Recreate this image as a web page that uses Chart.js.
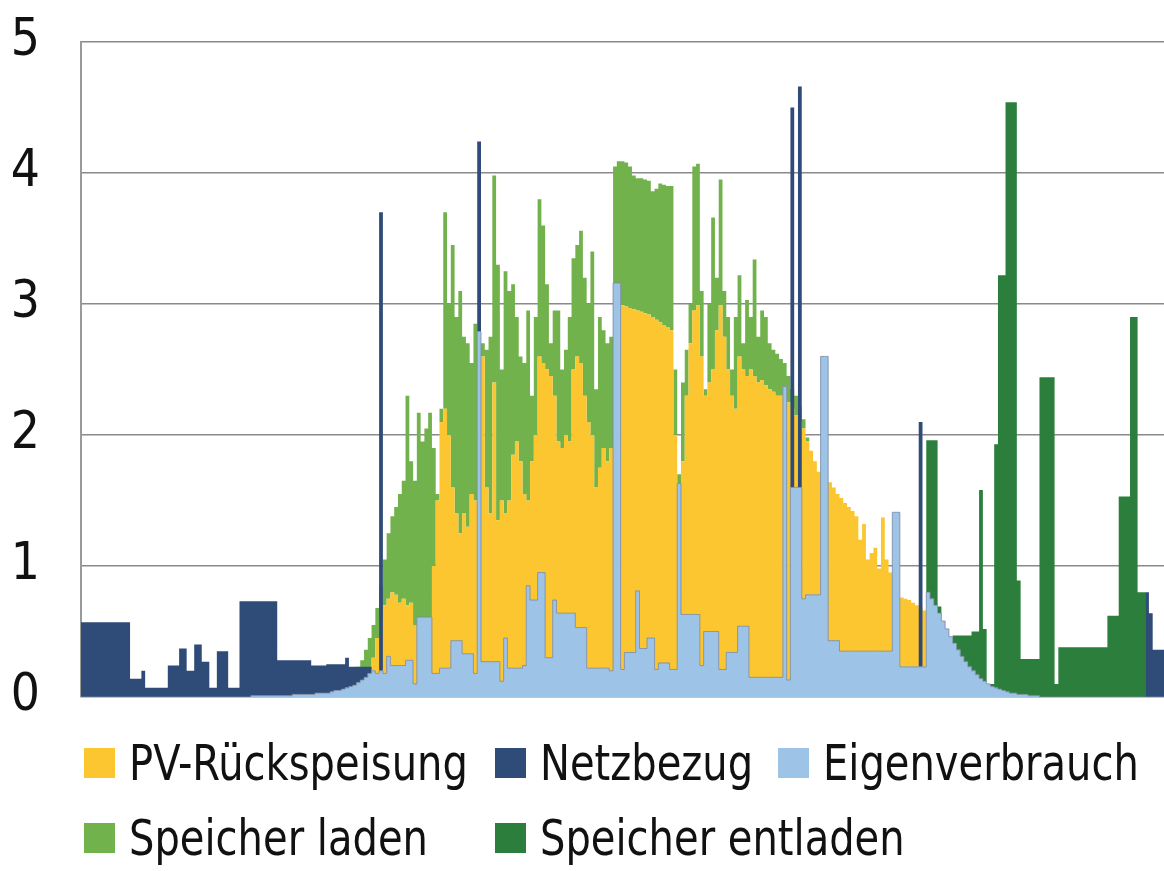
<!DOCTYPE html>
<html lang="de">
<head>
<meta charset="utf-8">
<title>PV-Anlage mit Speicher - Tagesverlauf</title>
<script src="https://cdn.jsdelivr.net/npm/chart.js@4.4.1/dist/chart.umd.min.js"></script>
<style>
    html, body { margin: 0; padding: 0; background: #fff; }
    #wrap { position: relative; width: 1164px; height: 871px; overflow: hidden; }
    #legende {
        position: absolute; left: 84px; top: 725px;
        display: grid; grid-template-columns: 411px 283px auto; grid-auto-rows: 75px;
        font-family: 'Liberation Sans Narrow', 'Arial Narrow', 'DejaVu Sans Condensed', sans-serif;
        font-size: 50px; color: #111;
    }
    .eintrag { display: flex; align-items: center; white-space: nowrap; }
    .kasten { width: 31px; height: 30px; margin-right: 14px; flex: none; }
    .txt { display: inline-block; transform: scaleX(0.89); transform-origin: left center; }
</style>
</head>
<body>
<div id="wrap">
    <canvas id="chart"></canvas>
    <div id="legende"></div>
</div>
<script>
// one value every 5 minutes, kW
const zeit = [];
for (let m = 0; m < 24 * 60; m += 5) {
    zeit.push(String(Math.floor(m / 60)).padStart(2, '0') + ':' + String(m % 60).padStart(2, '0'));
}

const yTicks = [0, 1, 2, 3, 4, 5];

const eigenverbrauch = [
    0,0,0,0,0,0,0,0,0,0,0,0,0,0,0,0,
    0,0,0,0,0,0,0,0,0,0,0,0,0,0,0,0,
    0,0,0,0,0,0,0,0,0,0,0,0,0,0.01,0.01,0.01,
    0.01,0.01,0.01,0.01,0.01,0.01,0.01,0.01,0.02,0.02,0.02,0.02,0.02,0.02,0.03,0.03,
    0.03,0.03,0.04,0.05,0.05,0.06,0.07,0.08,0.09,0.11,0.13,0.15,0.18,0.2,0.18,0.2,
    0.18,0.31,0.24,0.24,0.24,0.24,0.28,0.28,0.1,0.61,0.61,0.61,0.61,0.18,0.18,0.22,
    0.22,0.22,0.43,0.43,0.43,0.33,0.33,0.33,0.18,2.79,0.27,0.27,0.27,0.27,0.27,0.12,
    0.45,0.22,0.22,0.22,0.22,0.24,0.85,0.74,0.74,0.95,0.95,0.3,0.3,0.74,0.64,0.64,
    0.64,0.64,0.64,0.53,0.53,0.53,0.22,0.22,0.22,0.22,0.22,0.22,0.2,3.16,3.16,0.21,
    0.34,0.34,0.34,0.81,0.37,0.37,0.45,0.45,0.21,0.26,0.26,0.26,0.21,0.21,1.63,0.63,
    0.63,0.63,0.63,0.63,0.24,0.5,0.5,0.5,0.5,0.21,0.21,0.34,0.34,0.34,0.54,0.54,
    0.54,0.15,0.15,0.15,0.15,0.15,0.15,0.15,0.15,0.15,2.37,0.13,1.6,1.6,1.6,0.75,
    0.78,0.78,0.78,0.78,2.6,2.6,0.43,0.43,0.43,0.35,0.35,0.35,0.35,0.35,0.35,0.35,
    0.35,0.35,0.35,0.35,0.35,0.35,0.35,1.41,1.41,0.23,0.23,0.23,0.23,0.23,0.23,0.23,
    0.8,0.75,0.7,0.64,0.58,0.52,0.46,0.41,0.36,0.31,0.27,0.23,0.2,0.17,0.14,0.12,
    0.1,0.08,0.07,0.06,0.05,0.04,0.03,0.03,0.02,0.02,0.02,0.01,0.01,0.01,0,0,
    0,0,0,0,0,0,0,0,0,0,0,0,0,0,0,0,
    0,0,0,0,0,0,0,0,0,0,0,0,0,0,0,0
];

const netzbezug = [
    0.57,0.57,0.57,0.57,0.57,0.57,0.57,0.57,0.57,0.57,0.57,0.57,0.57,0.14,0.14,0.14,
    0.2,0.07,0.07,0.07,0.07,0.07,0.07,0.24,0.24,0.24,0.37,0.37,0.2,0.2,0.4,0.4,
    0.27,0.27,0.07,0.07,0.35,0.35,0.35,0.07,0.07,0.07,0.73,0.73,0.73,0.72,0.72,0.72,
    0.72,0.72,0.72,0.72,0.27,0.27,0.27,0.27,0.26,0.26,0.26,0.26,0.26,0.22,0.21,0.21,
    0.21,0.22,0.21,0.2,0.2,0.19,0.23,0.15,0.14,0.12,0.1,0.08,0.05,0,0,3.5,
    0,0,0,0,0,0,0,0,0,0,0,0,0,0,0,0,
    0,0,0,0,0,0,0,0,0,1.45,0,0,0,0,0,0,
    0,0,0,0,0,0,0,0,0,0,0,0,0,0,0,0,
    0,0,0,0,0,0,0,0,0,0,0,0,0,0,0,0,
    0,0,0,0,0,0,0,0,0,0,0,0,0,0,0,0,
    0,0,0,0,0,0,0,0,0,0,0,0,0,0,0,0,
    0,0,0,0,0,0,0,0,0,0,0,0,2.9,0,3.06,0,
    0,0,0,0,0,0,0,0,0,0,0,0,0,0,0,0,
    0,0,0,0,0,0,0,0,0,0,0,0,0,0,1.87,0,
    0,0,0,0,0,0,0,0,0,0,0,0,0,0,0,0,
    0,0,0,0,0,0,0,0,0,0,0,0,0,0,0,0,
    0,0,0,0,0,0,0,0,0,0,0,0,0,0,0,0,
    0,0,0,0,0,0,0,0,0,0,0.8,0.64,0.36,0.36,0.36,0.36
];

const speicherEntladen = [
    0,0,0,0,0,0,0,0,0,0,0,0,0,0,0,0,
    0,0,0,0,0,0,0,0,0,0,0,0,0,0,0,0,
    0,0,0,0,0,0,0,0,0,0,0,0,0,0,0,0,
    0,0,0,0,0,0,0,0,0,0,0,0,0,0,0,0,
    0,0,0,0,0,0,0,0,0,0,0,0,0,0,0,0,
    0,0,0,0,0,0,0,0,0,0,0,0,0,0,0,0,
    0,0,0,0,0,0,0,0,0,0,0,0,0,0,0,0,
    0,0,0,0,0,0,0,0,0,0,0,0,0,0,0,0,
    0,0,0,0,0,0,0,0,0,0,0,0,0,0,0,0,
    0,0,0,0,0,0,0,0,0,0,0,0,0,0,0,0,
    0,0,0,0,0,0,0,0,0,0,0,0,0,0,0,0,
    0,0,0,0,0,0,0,0,0,0,0,0,0,0,0,0,
    0,0,0,0,0,0,0,0,0,0,0,0,0,0,0,0,
    0,0,0,0,0,0,0,0,0,0,0,0,0,0,0,0,
    1.16,1.21,1.26,0.05,0,0,0,0.06,0.11,0.16,0.2,0.24,0.3,0.33,1.44,0.4,
    0,0.02,1.86,3.16,3.17,4.5,4.51,4.51,0.87,0.27,0.27,0.28,0.28,0.28,2.44,2.44,
    2.44,2.44,0.1,0.38,0.38,0.38,0.38,0.38,0.38,0.38,0.38,0.38,0.38,0.38,0.38,0.38,
    0.62,0.62,0.62,1.53,1.53,1.53,2.9,2.9,0.8,0.8,0,0,0,0,0,0
];

const rueckspeisung = [
    0,0,0,0,0,0,0,0,0,0,0,0,0,0,0,0,
    0,0,0,0,0,0,0,0,0,0,0,0,0,0,0,0,
    0,0,0,0,0,0,0,0,0,0,0,0,0,0,0,0,
    0,0,0,0,0,0,0,0,0,0,0,0,0,0,0,0,
    0,0,0,0,0,0,0,0,0,0,0,0.03,0.04,0.1,0.27,0.4,
    0.52,0.44,0.56,0.54,0.48,0.51,0.42,0.44,0.45,0,0,0,0,0.82,1.32,1.88,
    1.98,1.78,1.17,0.97,0.82,1.07,0.97,1.22,1.32,0,2.33,1.33,1.13,2.13,1.08,1.38,
    0.95,1.28,1.63,1.73,1.58,1.31,0.65,1.06,1.26,1.65,1.6,2.2,2.15,1.56,1.31,1.26,
    1.36,1.31,1.86,2.07,2.02,1.77,1.88,1.78,1.38,1.53,1.68,1.58,1.7,0,0,2.78,
    2.64,2.63,2.62,2.14,2.57,2.56,2.47,2.45,2.67,2.6,2.58,2.56,2.59,1.79,0,1.17,
    1.67,2.07,2.32,2.36,2.36,1.8,1.9,2.0,2.3,2.78,2.54,2.16,1.96,1.86,2.06,1.96,
    1.91,2.35,2.3,2.25,2.27,2.23,2.2,2.18,2.15,2.15,0,2.12,0.6,0.55,0.5,1.3,
    1.17,1.1,1.02,0.94,0,0,1.21,1.17,1.12,1.17,1.13,1.1,1.07,1.03,0.85,0.97,
    0.7,0.75,0.79,0.63,1.02,0.7,0.6,0,0,0.53,0.52,0.51,0.49,0.47,0.46,0.43,
    0,0,0,0,0,0,0,0,0,0,0,0,0,0,0,0,
    0,0,0,0,0,0,0,0,0,0,0,0,0,0,0,0,
    0,0,0,0,0,0,0,0,0,0,0,0,0,0,0,0,
    0,0,0,0,0,0,0,0,0,0,0,0,0,0,0,0
];

const speicherLaden = [
    0,0,0,0,0,0,0,0,0,0,0,0,0,0,0,0,
    0,0,0,0,0,0,0,0,0,0,0,0,0,0,0,0,
    0,0,0,0,0,0,0,0,0,0,0,0,0,0,0,0,
    0,0,0,0,0,0,0,0,0,0,0,0,0,0,0,0,
    0,0,0,0,0,0,0,0.02,0.07,0.12,0.15,0.18,0.23,0.25,0.23,0.25,
    0.35,0.5,0.58,0.67,0.83,0.9,1.6,1.08,1.1,1.56,1.34,1.44,1.56,0.9,0.05,0.1,
    1.5,1.0,1.85,1.5,1.85,1.35,1.4,1.0,1.35,0,0.1,1.05,1.35,1.58,1.95,1.0,
    1.85,1.6,1.3,0.95,0.8,1.0,1.45,0.5,0.9,1.2,1.05,0.65,0.25,0.65,1.0,0.6,
    0.65,0.95,0.85,0.85,1.01,0.9,0.9,1.4,0.75,1.15,0.9,0.9,0.85,0.89,0.93,1.1,
    1.1,1.08,1.02,1.01,1.02,1.02,1.02,0.96,1.0,1.06,1.07,1.08,1.1,0.5,0.07,0.6,
    0.35,0.3,1.1,1.08,0.5,0.05,0.6,1.16,0.4,0.96,0.35,0.4,0.2,0.7,0.62,0.2,
    0.58,0.4,0.89,0.35,0.53,0.52,0.35,0.32,0.32,0.28,0.18,0.2,0.15,0.15,0.12,0.07,
    0.03,0,0,0,0,0,0,0,0,0,0,0,0,0,0,0,
    0,0,0,0,0,0,0,0,0,0,0,0,0,0,0,0,
    0,0,0,0,0,0,0,0,0,0,0,0,0,0,0,0,
    0,0,0,0,0,0,0,0,0,0,0,0,0,0,0,0,
    0,0,0,0,0,0,0,0,0,0,0,0,0,0,0,0,
    0,0,0,0,0,0,0,0,0,0,0,0,0,0,0,0
];

const legendOrder = ['PV-Rückspeisung', 'Netzbezug', 'Eigenverbrauch', 'Speicher laden', 'Speicher entladen'];

const colors = {
    gelb: '#fbc62f',
    dunkelblau: '#2f4b78',
    hellblau: '#9dc3e6',
    gruen: '#72b24c',
    dunkelgruen: '#2b7e3b'
};

const FONT = "'Liberation Sans Narrow', 'Arial Narrow', 'DejaVu Sans Condensed', sans-serif";

// plot area edges in px (top of the 5 line, 0 line)
const PLOT_TOP = 42;
const PLOT_BOTTOM = 697;

[eigenverbrauch, netzbezug, speicherEntladen, rueckspeisung, speicherLaden].forEach((reihe, k) => {
    if (reihe.length !== zeit.length) {
        throw new Error('Reihe ' + k + ' hat ' + reihe.length + ' Werte statt ' + zeit.length);
    }
});

// two stacks sharing Eigenverbrauch at the bottom:
// production = Eigenverbrauch + Rueckspeisung + Speicher laden
// consumption = Eigenverbrauch + Netzbezug + Speicher entladen
// dataset 0 is drawn last (on top), the last one is drawn first
const common = { stepped: true, pointRadius: 0, borderWidth: 0, tension: 0 };

const datasets = [
    { ...common, label: 'Eigenverbrauch', data: eigenverbrauch, stack: 'erzeugung', fill: 'origin',
      backgroundColor: colors.hellblau, borderColor: 'rgba(120,135,160,0.8)', borderWidth: 1 },
    { ...common, label: '_eigen', data: eigenverbrauch, stack: 'verbrauch', fill: false,
      backgroundColor: 'rgba(0,0,0,0)', borderColor: 'rgba(0,0,0,0)' },
    { ...common, label: 'Netzbezug', data: netzbezug, stack: 'verbrauch', fill: 1,
      backgroundColor: colors.dunkelblau, borderColor: colors.dunkelblau },
    { ...common, label: 'Speicher entladen', data: speicherEntladen, stack: 'verbrauch', fill: 2,
      backgroundColor: colors.dunkelgruen, borderColor: colors.dunkelgruen },
    { ...common, label: 'PV-Rückspeisung', data: rueckspeisung, stack: 'erzeugung', fill: 0,
      backgroundColor: colors.gelb, borderColor: colors.gelb },
    { ...common, label: 'Speicher laden', data: speicherLaden, stack: 'erzeugung', fill: 4,
      backgroundColor: colors.gruen, borderColor: colors.gruen }
];

const layoutPadding = { top: PLOT_TOP, right: 0, bottom: 871 - PLOT_BOTTOM, left: 0 };

const chart = new Chart(document.getElementById('chart'), {
    type: 'line',
    data: { labels: zeit, datasets: datasets },
    options: {
        responsive: true,
        maintainAspectRatio: false,
        animation: false,
        layout: { padding: layoutPadding },
        plugins: {
            legend: { display: false },
            tooltip: { enabled: false }
        },
        scales: {
            x: { display: false, offset: false },
            y: {
                stacked: true,
                min: 0,
                max: 5,
                afterFit: (scale) => {
                    scale.width = 81;
                    scale.paddingTop = 0;
                    scale.paddingBottom = 0;
                },
                afterBuildTicks: (scale) => { scale.ticks = yTicks.map(v => ({ value: v })); },
                grid: { color: '#8a8a8a', lineWidth: 1.5, drawTicks: false },
                border: { display: true, color: '#9a9a9a', width: 2 },
                ticks: {
                    padding: 41,
                    color: '#111',
                    font: { family: FONT, size: 51 }
                }
            }
        }
    }
});

// the big tick labels push the plot down; nudge padding until the plot sits where it should
for (let k = 0; k < 3; k++) {
    const dTop = chart.chartArea.top - PLOT_TOP;
    const dBottom = chart.chartArea.bottom - PLOT_BOTTOM;
    if (Math.abs(dTop) < 0.5 && Math.abs(dBottom) < 0.5) break;
    layoutPadding.top -= dTop;
    layoutPadding.bottom += dBottom;
    chart.update();
}

// html legend, built from the chart's datasets
const legende = document.getElementById('legende');
legendOrder.forEach(name => {
    const ds = chart.data.datasets.find(d => d.label === name);
    const item = document.createElement('div');
    item.className = 'eintrag';
    const box = document.createElement('span');
    box.className = 'kasten';
    box.style.background = ds.backgroundColor;
    const text = document.createElement('span');
    text.className = 'txt';
    text.textContent = ds.label;
    item.appendChild(box);
    item.appendChild(text);
    legende.appendChild(item);
});
</script>
</body>
</html>
